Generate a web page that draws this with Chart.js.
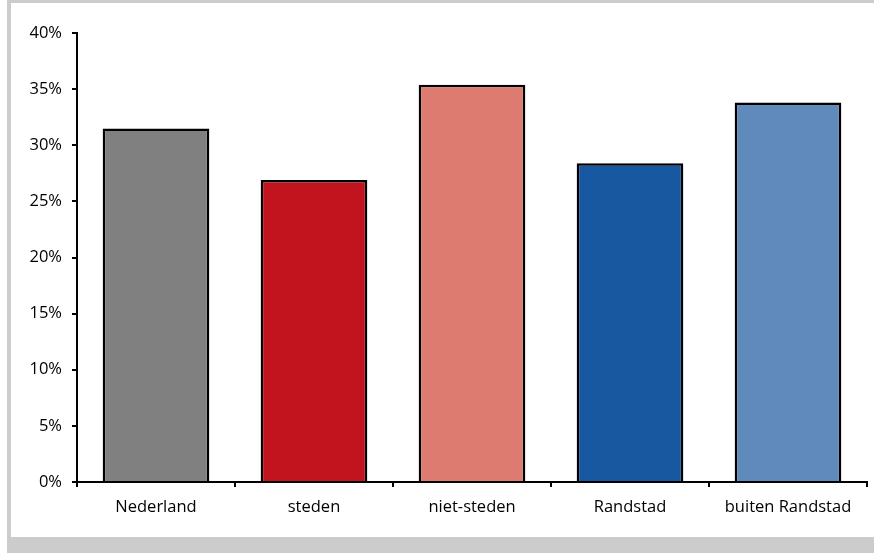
<!DOCTYPE html>
<html>
<head>
<meta charset="utf-8">
<script src="https://cdn.jsdelivr.net/npm/chart.js@4/dist/chart.umd.min.js"></script>
<style>
  html, body { margin: 0; padding: 0; background: #ffffff; }
  #wrap { width: 874px; height: 553px; position: relative; }
</style>
</head>
<body>
<div id="wrap"><canvas id="c" width="874" height="553"></canvas></div>
<script>
// Share per region (percent)
const categories = ['Nederland', 'steden', 'niet-steden', 'Randstad', 'buiten Randstad'];
const shares = [31.5, 26.9, 35.4, 28.4, 33.8];
const barColors = ['#808080', '#C1141F', '#DE7B70', '#1858A0', '#6089BC'];
const yTicks = [0, 5, 10, 15, 20, 25, 30, 35, 40];

// Grey frame around the panel
const framePlugin = {
  id: 'frame',
  beforeDraw(chart) {
    const ctx = chart.ctx;
    ctx.save();
    ctx.fillStyle = '#ffffff';
    ctx.fillRect(0, 0, chart.width, chart.height);
    ctx.fillStyle = '#cccccc';
    ctx.fillRect(7, 0, chart.width - 7, 3);
    ctx.fillRect(7, 0, 4, chart.height);
    ctx.fillRect(7, 537, chart.width - 7, chart.height - 537);
    ctx.restore();
  }
};

new Chart(document.getElementById('c'), {
  type: 'bar',
  data: {
    labels: categories,
    datasets: [{
      data: shares,
      backgroundColor: barColors,
      borderColor: '#000000',
      borderWidth: 2.5,
      borderSkipped: 'bottom',
      categoryPercentage: 1,
      barPercentage: 0.675
    }]
  },
  options: {
    responsive: false,
    animation: false,
    devicePixelRatio: 1,
    layout: { padding: { top: 33, right: 7, left: 0, bottom: 0 } },
    plugins: {
      legend: { display: false },
      tooltip: { enabled: false }
    },
    scales: {
      x: {
        offset: true,
        grid: {
          offset: true,
          drawOnChartArea: false,
          drawTicks: true,
          tickLength: 5,
          color: '#000000',
          lineWidth: 2
        },
        border: { display: true, color: '#000000', width: 2 },
        ticks: {
          color: '#000000',
          padding: 10,
          maxRotation: 0,
          font: { family: 'Open Sans', size: 16.5 }
        },
        afterFit(scale) { scale.height = 71; }
      },
      y: {
        min: 0,
        max: 40,
        afterBuildTicks(scale) { scale.ticks = yTicks.map(v => ({ value: v })); },
        grid: {
          drawOnChartArea: false,
          drawTicks: true,
          tickLength: 5,
          color: '#000000',
          lineWidth: 2
        },
        border: { display: true, color: '#000000', width: 2 },
        ticks: {
          color: '#000000',
          padding: 10,
          font: { family: 'Open Sans', size: 16.5 },
          callback: v => v + '%'
        },
        afterFit(scale) { scale.width = 77; }
      }
    }
  },
  plugins: [framePlugin]
});
</script>
</body>
</html>
